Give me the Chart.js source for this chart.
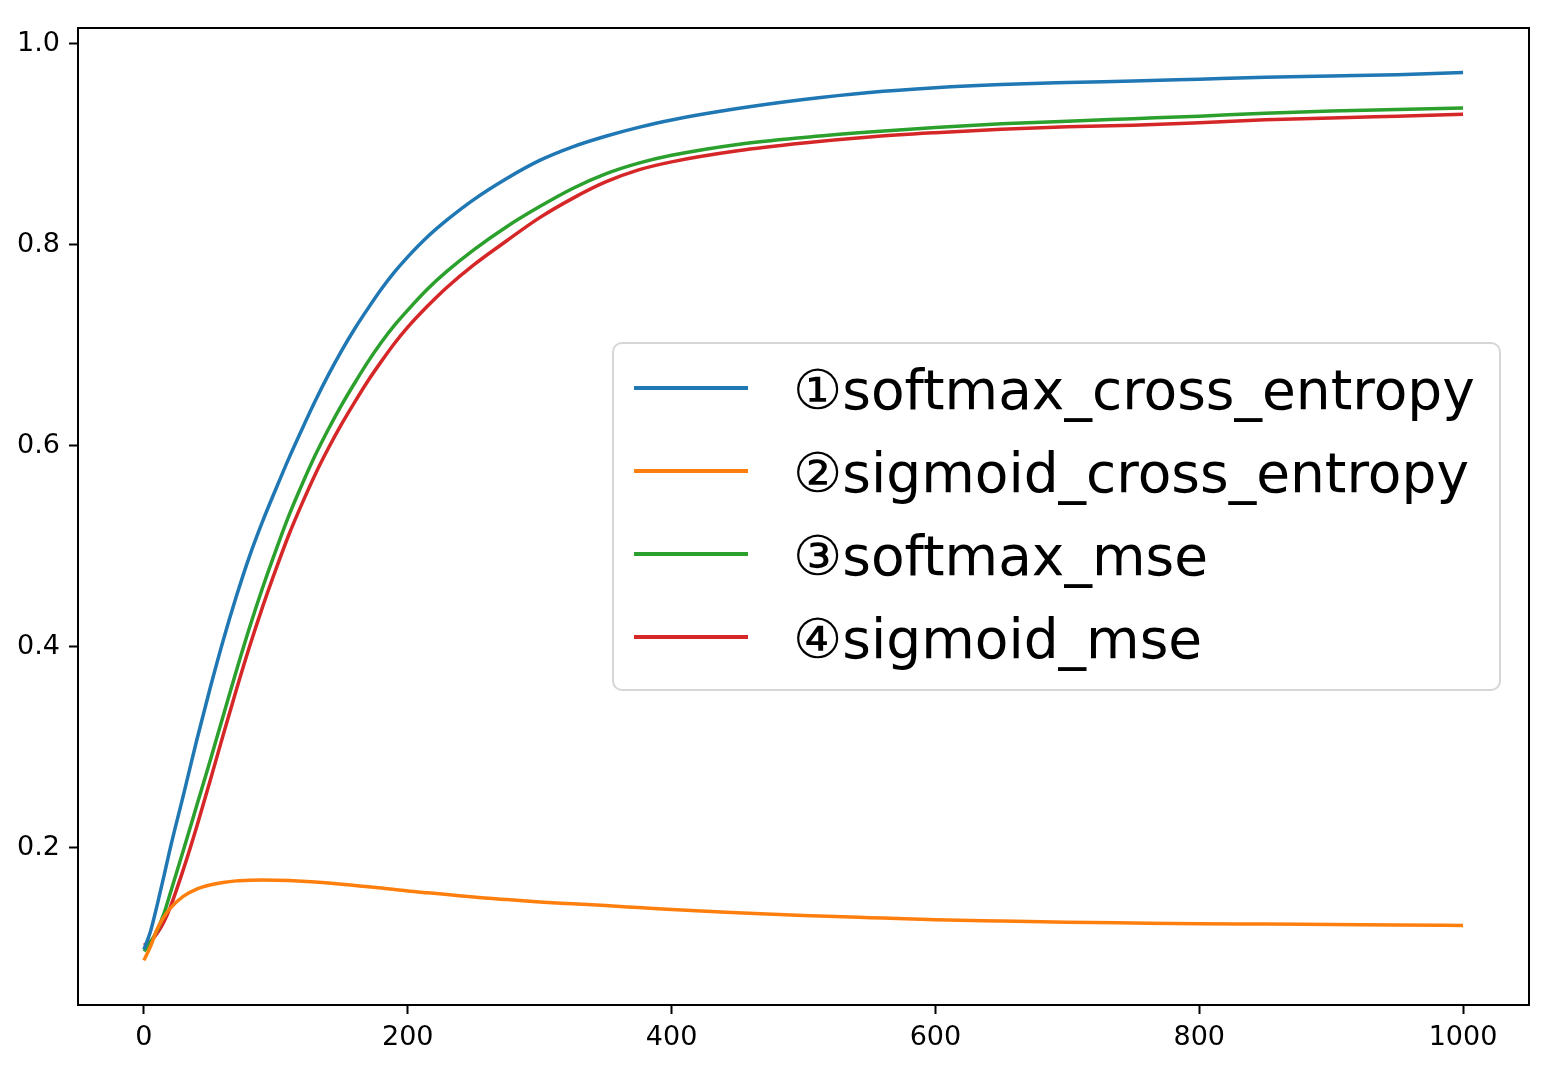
<!DOCTYPE html>
<html>
<head>
<meta charset="utf-8">
<script src="https://cdn.jsdelivr.net/npm/chart.js@4"></script>
<style>
  html, body { margin: 0; padding: 0; background: #fff; }
  canvas { display: block; }
</style>
</head>
<body>
<canvas id="myChart" width="1544" height="1080"></canvas>
<script>
// steps on the x axis
let steps = [0, 5, 10, 15, 20, 30, 40, 50, 60, 70, 80, 90, 100, 110, 120, 130, 140, 150, 160, 170,
    180, 190, 200, 215, 230, 250, 275, 300, 325, 350, 375, 400, 450, 500, 550, 600, 650, 700, 750,
    800, 850, 900, 950, 1000];

// accuracy values
let softmaxCrossEntropy = [0.099, 0.117, 0.143, 0.171, 0.200, 0.253, 0.307, 0.358, 0.406, 0.450,
    0.490, 0.525, 0.557, 0.588, 0.617, 0.645, 0.671, 0.695, 0.717, 0.737,
    0.756, 0.773, 0.788, 0.808, 0.825, 0.845, 0.866, 0.884, 0.8975, 0.908, 0.9168, 0.9242, 0.9355, 0.9445,
    0.9515, 0.9562, 0.9594, 0.9614, 0.963, 0.9648, 0.9666, 0.968, 0.9693, 0.9713];

let sigmoidCrossEntropy = [0.088, 0.102, 0.119, 0.131, 0.140, 0.152, 0.159, 0.163, 0.1655, 0.1671,
    0.1678, 0.168, 0.1678, 0.1674, 0.1668, 0.166, 0.165, 0.1638, 0.1625, 0.1612,
    0.160, 0.1585, 0.157, 0.1552, 0.1535, 0.151, 0.1485, 0.1462, 0.1443, 0.1425, 0.1405, 0.1385, 0.1355,
    0.1327, 0.1305, 0.1285, 0.1272, 0.126, 0.1252, 0.1245, 0.1242, 0.1237, 0.1233, 0.1227];

let softmaxMse = [0.097, 0.106, 0.118, 0.134, 0.155, 0.198, 0.242, 0.286, 0.331, 0.376,
    0.419, 0.459, 0.496, 0.531, 0.562, 0.591, 0.617, 0.641, 0.663, 0.684,
    0.703, 0.720, 0.735, 0.756, 0.774, 0.795, 0.818, 0.838, 0.856, 0.8705, 0.8812, 0.889, 0.8998, 0.9068,
    0.9122, 0.9168, 0.9204, 0.923, 0.9255, 0.928, 0.931, 0.933, 0.9345, 0.936];

let sigmoidMse = [0.103, 0.107, 0.115, 0.126, 0.141, 0.179, 0.221, 0.266, 0.312, 0.357,
    0.400, 0.440, 0.477, 0.512, 0.543, 0.572, 0.598, 0.622, 0.644, 0.665,
    0.684, 0.702, 0.718, 0.739, 0.758, 0.780, 0.804, 0.827, 0.8462, 0.8625, 0.8745, 0.8825, 0.8935, 0.9012,
    0.9072, 0.9115, 0.915, 0.9175, 0.919, 0.9215, 0.9243, 0.9262, 0.928, 0.9298];

let seriesNames = ["①softmax_cross_entropy", "②sigmoid_cross_entropy", "③softmax_mse", "④sigmoid_mse"];
let seriesColors = ["#1f77b4", "#ff7f0e", "#2ca02c", "#d62728"];

let xTicks = [0, 200, 400, 600, 800, 1000];
let yTicks = [0.2, 0.4, 0.6, 0.8, 1.0];

let fontFamily = '"DejaVu Sans", "Noto Sans CJK SC", sans-serif';

function toPoints(values) {
    return steps.map(function (s, i) { return { x: s, y: values[i] }; });
}

let allSeries = [softmaxCrossEntropy, sigmoidCrossEntropy, softmaxMse, sigmoidMse];

let datasets = allSeries.map(function (values, i) {
    return {
        label: seriesNames[i],
        data: toPoints(values),
        borderColor: seriesColors[i],
        backgroundColor: seriesColors[i],
        borderWidth: 3.5,
        pointRadius: 0,
        fill: false,
        cubicInterpolationMode: 'monotone'
    };
});

// frame around the plot (all four sides, like matplotlib spines)
let framePlugin = {
    id: 'frame',
    afterDatasetsDraw: function (chart) {
        let a = chart.chartArea;
        let ctx = chart.ctx;
        ctx.save();
        ctx.strokeStyle = '#000';
        ctx.lineWidth = 2;
        ctx.strokeRect(a.left, a.top, a.right - a.left, a.bottom - a.top);
        ctx.restore();
    }
};

// legend box drawn inside the plot
let legendPlugin = {
    id: 'boxLegend',
    afterDraw: function (chart) {
        let ctx = chart.ctx;
        let boxX = 613, boxY = 343, boxW = 887, boxH = 347;
        ctx.save();
        ctx.beginPath();
        ctx.roundRect(boxX, boxY, boxW, boxH, 9);
        ctx.fillStyle = 'rgba(255,255,255,0.8)';
        ctx.fill();
        ctx.strokeStyle = 'rgba(204,204,204,0.8)';
        ctx.lineWidth = 2;
        ctx.stroke();

        ctx.font = '55px ' + fontFamily;
        ctx.textAlign = 'left';
        ctx.textBaseline = 'alphabetic';
        chart.data.datasets.forEach(function (ds, i) {
            let y = 388 + i * 83;
            ctx.beginPath();
            ctx.moveTo(634, y);
            ctx.lineTo(748, y);
            ctx.strokeStyle = ds.borderColor;
            ctx.lineWidth = 4;
            ctx.stroke();
            ctx.fillStyle = '#000';
            ctx.fillText(ds.label, 793, y + 21);
        });
        ctx.restore();
    }
};

let config = {
    type: 'line',
    data: { datasets: datasets },
    options: {
        responsive: false,
        animation: false,
        devicePixelRatio: 1,
        layout: { padding: { left: 0, top: 28, right: 15, bottom: 0 } },
        plugins: {
            legend: { display: false },
            tooltip: { enabled: false }
        },
        scales: {
            x: {
                type: 'linear',
                min: -50,
                max: 1050,
                afterFit: function (scale) { scale.height = 75; },
                afterBuildTicks: function (scale) {
                    scale.ticks = xTicks.map(function (v) { return { value: v }; });
                },
                ticks: {
                    color: '#000',
                    font: { family: fontFamily, size: 27 },
                    padding: 8,
                    maxRotation: 0,
                    callback: function (v) { return String(v); }
                },
                grid: {
                    drawOnChartArea: false,
                    drawTicks: true,
                    tickLength: 9,
                    tickWidth: 2,
                    tickColor: '#000'
                },
                border: { display: false }
            },
            y: {
                type: 'linear',
                min: 0.0436,
                max: 1.0157,
                afterFit: function (scale) { scale.width = 78; },
                afterBuildTicks: function (scale) {
                    scale.ticks = yTicks.map(function (v) { return { value: v }; });
                },
                ticks: {
                    color: '#000',
                    font: { family: fontFamily, size: 27 },
                    padding: 9,
                    callback: function (v) { return v.toFixed(1); }
                },
                grid: {
                    drawOnChartArea: false,
                    drawTicks: true,
                    tickLength: 9,
                    tickWidth: 2,
                    tickColor: '#000'
                },
                border: { display: false }
            }
        }
    },
    plugins: [framePlugin, legendPlugin]
};

let lineChart = new Chart(document.getElementById('myChart'), config);
</script>
</body>
</html>
